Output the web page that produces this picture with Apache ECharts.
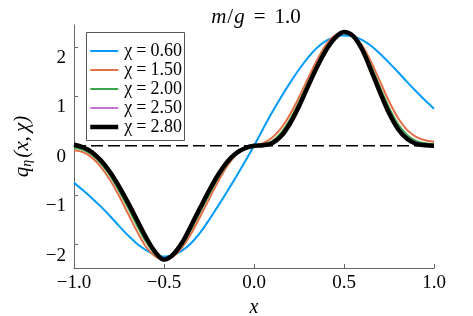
<!DOCTYPE html>
<html>
<head>
<meta charset="utf-8">
<script src="https://cdn.jsdelivr.net/npm/echarts@6/dist/echarts.min.js"></script>
<style>html,body{margin:0;padding:0;background:#fff;}#c{width:473px;height:316px;}</style>
</head>
<body>
<div id="c"></div>
<script>
const xs = [-1.00,-0.95,-0.90,-0.85,-0.80,-0.75,-0.70,-0.65,-0.60,-0.55,-0.50,-0.45,-0.40,-0.35,-0.30,-0.25,-0.20,-0.15,-0.10,-0.05,
  0.00,0.05,0.10,0.15,0.20,0.25,0.30,0.35,0.40,0.45,0.50,0.55,0.60,0.65,0.70,0.75,0.80,0.85,0.90,0.95,1.00];
const seriesNames = ['χ = 0.60','χ = 1.50','χ = 2.00','χ = 2.50','χ = 2.80'];
const q060 = [-0.75,-0.90,-1.06,-1.23,-1.42,-1.62,-1.81,-1.98,-2.11,-2.20,-2.24,-2.21,-2.12,-1.97,-1.76,-1.50,-1.22,-0.93,-0.63,-0.32,
  0.00,0.34,0.67,0.98,1.27,1.54,1.78,1.98,2.12,2.20,2.23,2.21,2.14,2.02,1.86,1.68,1.49,1.29,1.10,0.92,0.75];
const q150 = [-0.09,-0.13,-0.24,-0.43,-0.69,-1.01,-1.37,-1.73,-2.04,-2.23,-2.30,-2.24,-2.06,-1.78,-1.44,-1.08,-0.73,-0.42,-0.19,-0.06,
  0.00,0.05,0.16,0.35,0.63,0.98,1.36,1.73,2.04,2.23,2.30,2.23,2.03,1.70,1.30,0.90,0.56,0.32,0.18,0.11,0.08];
const q200 = [-0.04,-0.08,-0.18,-0.36,-0.60,-0.91,-1.25,-1.61,-1.94,-2.18,-2.30,-2.22,-2.01,-1.69,-1.34,-0.99,-0.65,-0.37,-0.17,-0.05,
  0.00,0.02,0.09,0.26,0.53,0.88,1.27,1.65,1.98,2.20,2.30,2.22,1.99,1.61,1.18,0.77,0.44,0.22,0.10,0.05,0.03];
const q250 = [0.00,-0.05,-0.15,-0.32,-0.56,-0.85,-1.18,-1.54,-1.88,-2.15,-2.30,-2.21,-1.98,-1.65,-1.29,-0.94,-0.61,-0.34,-0.15,-0.05,
  0.00,0.01,0.06,0.21,0.48,0.83,1.23,1.61,1.95,2.19,2.30,2.22,1.96,1.56,1.12,0.70,0.38,0.17,0.06,0.02,0.01];
const q280 = [0.02,-0.03,-0.13,-0.30,-0.53,-0.82,-1.15,-1.50,-1.85,-2.14,-2.30,-2.20,-1.96,-1.62,-1.26,-0.91,-0.59,-0.33,-0.15,-0.05,
  0.00,0.01,0.05,0.19,0.45,0.80,1.20,1.59,1.93,2.18,2.30,2.22,1.95,1.53,1.08,0.66,0.34,0.14,0.04,0.01,0.00];
const hlineX = [-1, 1];
const hlineY = [0, 0];
const xTicks = [-1, -0.5, 0, 0.5, 1];
const yTicks = [-2, -1, 0, 1, 2];

const colors = ['#009AFA', '#E36F47', '#3EA44E', '#C371D2', '#000000'];
const widths = [2, 2, 2, 2, 4.5];
const ys = [q060, q150, q200, q250, q280];
const FONT = "'Liberation Serif', 'Times New Roman', 'DejaVu Serif', serif";
const minus = s => String(s).replace('-', '\u2212');

const chart = echarts.init(document.getElementById('c'), null, {renderer: 'canvas', width: 473, height: 316});
const series = [{
  type: 'line', name: 'hline', data: hlineX.map((x, i) => [x, hlineY[i]]),
  symbol: 'none', silent: true, z: 1,
  lineStyle: {color: '#000', width: 1.6, type: [12, 5]}
}].concat(ys.map((arr, k) => ({
  type: 'line', name: seriesNames[k], data: xs.map((x, i) => [x, arr[i]]),
  symbol: 'none', smooth: 0.35, z: 2 + k,
  lineStyle: {color: colors[k], width: widths[k]},
  itemStyle: {color: colors[k]}
})));

chart.setOption({
  animation: false,
  backgroundColor: '#fff',
  title: {
    text: '{i|m}{s|/}{i|g}{e|=}1.0',
    left: 251, top: 2, textAlign: 'center',
    textStyle: {fontFamily: FONT, fontSize: 21, fontWeight: 'normal', color: '#000',
      rich: {i: {fontFamily: FONT, fontSize: 21, fontStyle: 'italic'},
             s: {fontFamily: FONT, fontSize: 21, padding: [0, 1, 0, 1]},
             e: {fontFamily: FONT, fontSize: 21, padding: [0, 9, 0, 9]}}}
  },
  grid: {left: 74, right: 39, top: 25, bottom: 48, containLabel: false, outerBoundsMode: 'none'},
  graphic: [{
    type: 'rect', z: 10, shape: {x: 86.5, y: 32.5, width: 98, height: 108},
    style: {fill: '#fff', stroke: '#555', lineWidth: 1}
  }],
  legend: {
    z: 20, orient: 'vertical', left: 88, top: 42, padding: 0, itemGap: 1,
    itemWidth: 28, itemHeight: 10,
    data: seriesNames.map((n, k) => ({name: n, lineStyle: {width: widths[k], color: colors[k]}})),
    itemStyle: {opacity: 0},
    formatter: n => '{c|χ}{e|=}{c|' + n.split('= ')[1] + '}',
    textStyle: {fontFamily: FONT, fontSize: 18, color: '#000', lineHeight: 16.8, padding: [0, 0, 0, 1],
      rich: {c: {fontFamily: FONT, fontSize: 18}, e: {fontFamily: FONT, fontSize: 18, padding: [0, 4, 0, 4]}}}
  },
  xAxis: {
    type: 'value', min: -1, max: 1, interval: 0.5,
    name: 'x', nameLocation: 'middle', nameGap: 23,
    nameTextStyle: {fontFamily: FONT, fontSize: 20, fontStyle: 'italic', color: '#000'},
    axisLine: {onZero: false, lineStyle: {color: '#666', width: 1}},
    axisTick: {inside: true, length: 4, lineStyle: {color: '#666'}, customValues: xTicks},
    axisLabel: {fontFamily: FONT, fontSize: 19, color: '#000', margin: 6, customValues: xTicks,
      formatter: v => minus(Number(v).toFixed(1))},
    splitLine: {show: false}
  },
  yAxis: {
    type: 'value', min: -2.47, max: 2.44,
    name: '{q|q}{s|η}{p|(x,\u2009χ)}', nameLocation: 'middle', nameRotate: 90, nameGap: 40,
    nameTextStyle: {fontFamily: FONT, fontSize: 21, color: '#000',
      rich: {
        q: {fontFamily: FONT, fontSize: 21, fontStyle: 'italic', lineHeight: 24},
        s: {fontFamily: FONT, fontSize: 14, fontStyle: 'italic', verticalAlign: 'bottom', lineHeight: 24, padding: [0, 2, 0, 0]},
        p: {fontFamily: FONT, fontSize: 21, fontStyle: 'italic', lineHeight: 24}
      }},
    axisLine: {onZero: false, lineStyle: {color: '#666', width: 1}},
    axisTick: {inside: true, length: 4, lineStyle: {color: '#666'}, customValues: yTicks},
    axisLabel: {fontFamily: FONT, fontSize: 19, color: '#000', margin: 8, customValues: yTicks,
      formatter: v => '{a|' + minus(Math.round(v)) + '}',
      rich: {a: {fontFamily: FONT, fontSize: 19, color: '#000', padding: [22, 0, 0, 0]}}},
    splitLine: {show: false}
  },
  series: series
});
</script>
</body>
</html>
